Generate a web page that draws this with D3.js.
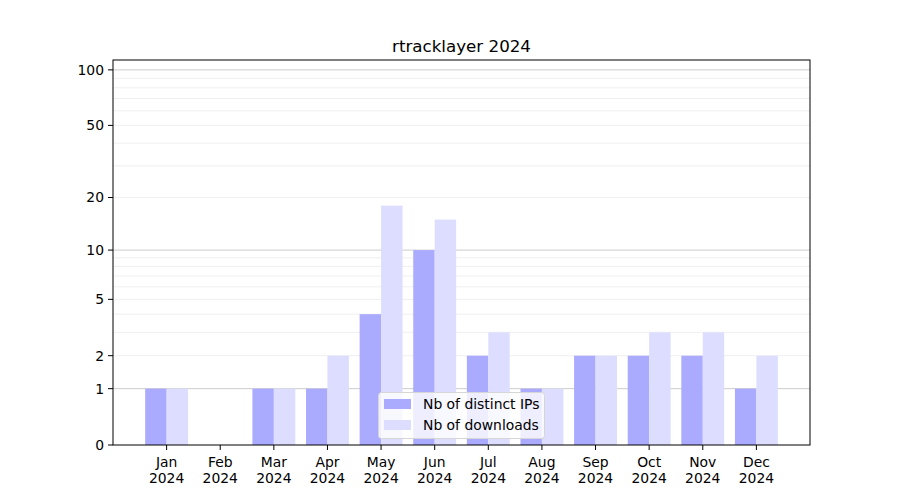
<!DOCTYPE html>
<html><head><meta charset="utf-8">
<script src="https://cdn.jsdelivr.net/npm/d3@7"></script>
<style>body{margin:0;background:#fff}svg{font-family:"DejaVu Sans",sans-serif}</style>
</head><body><div id="chart"></div>
<script>
const months = ["Jan","Feb","Mar","Apr","May","Jun","Jul","Aug","Sep","Oct","Nov","Dec"];
const yearLabel = "2024";
const distinctIPs = [1,0,1,1,4,10,2,1,2,2,2,1];
const downloads = [1,0,1,2,18,15,3,1,2,3,3,2];
const yTicks = [0,1,2,5,10,20,50,100];
const majorGrid = [1,10,100];
const minorGrid = [2,3,4,5,6,7,8,9,20,30,40,50,60,70,80,90];
const seriesNames = ["Nb of distinct IPs","Nb of downloads"];
const colors = ["#aaaaff","#ddddff"];
const title = "rtracklayer 2024";

const W=900,H=500, L=113,R=810,T=60,B=445;
const FS="13.9px";
const svg=d3.select("#chart").append("svg").attr("width",W).attr("height",H);
const x=d3.scaleLinear().domain([-1,12]).range([L,R]);
const t=v=>Math.log10(1+v);
const ly=d3.scaleLinear().domain([0,2.057]).range([B,T]);
const y=v=>ly(t(v));

// grid
svg.append("g").selectAll("line").data(minorGrid).join("line")
  .attr("x1",L).attr("x2",R).attr("y1",d=>y(d)).attr("y2",d=>y(d))
  .attr("stroke","#ebebeb").attr("stroke-width",0.8);
svg.append("g").selectAll("line").data(majorGrid).join("line")
  .attr("x1",L).attr("x2",R).attr("y1",d=>y(d)).attr("y2",d=>y(d))
  .attr("stroke","#cccccc").attr("stroke-width",1);

const bw=0.4;
svg.append("g").selectAll("rect").data(distinctIPs).join("rect")
  .attr("x",(d,i)=>x(i-bw)).attr("width",x(bw)-x(0))
  .attr("y",d=>y(d)).attr("height",d=>B-y(d)).attr("fill",colors[0]);
svg.append("g").selectAll("rect").data(downloads).join("rect")
  .attr("x",(d,i)=>x(i)).attr("width",x(bw)-x(0))
  .attr("y",d=>y(d)).attr("height",d=>B-y(d)).attr("fill",colors[1]);

// frame
svg.append("rect").attr("x",L).attr("y",T).attr("width",R-L).attr("height",B-T)
  .attr("fill","none").attr("stroke","#000").attr("stroke-width",1);

// y axis
const yg=svg.append("g");
yTicks.forEach(v=>{
  yg.append("line").attr("x1",L-5).attr("x2",L).attr("y1",y(v)).attr("y2",y(v)).attr("stroke","#000");
  yg.append("text").attr("x",L-9).attr("y",y(v)).attr("dy","0.35em").attr("text-anchor","end")
    .attr("font-size",FS).attr("fill","#000").text(v);
});
// x axis
const xg=svg.append("g");
months.forEach((m,i)=>{
  xg.append("line").attr("x1",x(i)).attr("x2",x(i)).attr("y1",B).attr("y2",B+5).attr("stroke","#000");
  xg.append("text").attr("x",x(i)).attr("y",467).attr("text-anchor","middle").attr("font-size",FS).text(m);
  xg.append("text").attr("x",x(i)).attr("y",483).attr("text-anchor","middle").attr("font-size",FS).text(yearLabel);
});

svg.append("text").attr("x",(L+R)/2).attr("y",52).attr("text-anchor","middle")
  .attr("font-size","16.7px").text(title);

// legend
const lg=svg.append("g");
lg.append("rect").attr("x",378.5).attr("y",392.5).attr("width",166).attr("height",46).attr("rx",3)
  .attr("fill","#fff").attr("fill-opacity",0.8).attr("stroke","#d6d6d6");
seriesNames.forEach((n,i)=>{
  lg.append("rect").attr("x",384).attr("y",399+i*21).attr("width",27).attr("height",10).attr("fill",colors[i]);
  lg.append("text").attr("x",423).attr("y",404+i*21).attr("dy","0.35em").attr("font-size",FS).text(n);
});
</script></body></html>
